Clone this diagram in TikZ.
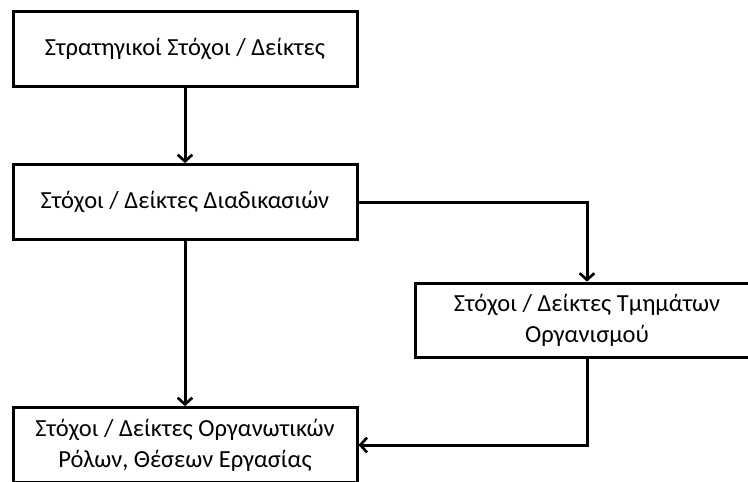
\documentclass[tikz,border=0pt]{standalone}
\usepackage{fontspec}
\setmainfont{Carlito}
\usetikzlibrary{arrows.meta}
\tikzset{
  goalbox/.style={draw, line width=2.25pt, minimum width=258pt, minimum height=56pt,
    align=center, font=\fontsize{18.4}{23.5}\selectfont, inner sep=0pt},
  flow/.style={line width=2.25pt, -{Straight Barb[length=5pt, width=11pt, line width=2pt]}}
}
\begin{document}
\begin{tikzpicture}[x=0.75pt, y=-0.75pt]
        \useasboundingbox (0,0) rectangle (748,481);
        \clip (0,0) rectangle (748,481);
        \fill[white] (0,0) rectangle (748,481);
        \node[goalbox] (strat) at (185,49) {Στρατηγικοί Στόχοι / Δείκτες};
        \node[goalbox] (proc) at (185,202) {Στόχοι / Δείκτες Διαδικασιών};
        \node[goalbox] (dept) at (587,320.5) {Στόχοι / Δείκτες Τμημάτων\\Οργανισμού};
        \node[goalbox] (roles) at (185,445) {Στόχοι / Δείκτες Οργανωτικών\\Ρόλων, Θέσεων Εργασίας};
        \draw[flow] (strat) -- (proc);
        \draw[flow] (proc) -- (roles);
        \draw[flow] (proc.east) -| (dept.north);
        \draw[flow] (dept.south) |- (roles.east);
      \end{tikzpicture}
\end{document}
